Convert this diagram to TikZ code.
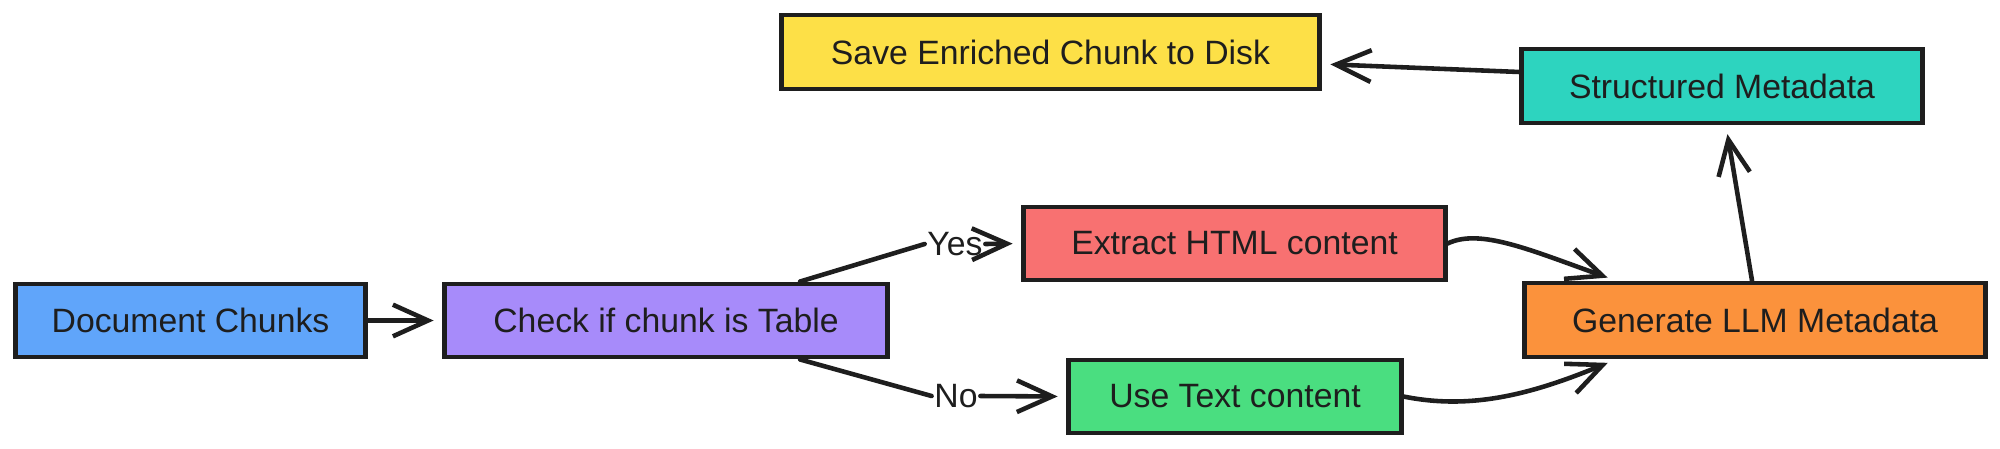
\documentclass[tikz,border=0pt]{standalone}
\usepackage{fontspec}
\setmainfont{Liberation Sans}
\usetikzlibrary{arrows.meta}
\definecolor{cblue}{HTML}{60A5FA}
\definecolor{cpurple}{HTML}{A78BFA}
\definecolor{cred}{HTML}{F87171}
\definecolor{cgreen}{HTML}{4ADE80}
\definecolor{corange}{HTML}{FB923C}
\definecolor{cteal}{HTML}{2DD4BF}
\definecolor{cyellow}{HTML}{FDE047}
\definecolor{ink}{HTML}{1E1E1E}
\tikzset{
  box/.style={draw=ink, line width=1.4pt, rectangle, inner sep=0pt,
    minimum height=0.73cm, text=ink, font=\fontsize{9.6}{12}\selectfont},
  lbl/.style={inner sep=0.6pt, text=ink, font=\fontsize{9.6}{12}\selectfont},
  arr/.style={draw=ink, line width=1.3pt, line cap=round,
    -{Straight Barb[length=10pt,width=9pt,line width=1.3pt]}, shorten >=2.5pt},
  ln/.style={draw=ink, line width=1.3pt, line cap=round}
}
\begin{document}
\begin{tikzpicture}[x=0.01cm,y=-0.01cm]
\useasboundingbox (0,0) rectangle (2000,448);
\node[box, fill=cblue, minimum width=3.49cm] (doc) at (190.5,320.5) {Document Chunks};
\node[box, fill=cpurple, minimum width=4.42cm] (chk) at (666,320.5) {Check if chunk is Table};
\node[box, fill=cred, minimum width=4.21cm] (ext) at (1234.5,243.5) {Extract HTML content};
\node[box, fill=cgreen, minimum width=3.32cm] (use) at (1235,396.5) {Use Text content};
\node[box, fill=corange, minimum width=4.60cm, minimum height=0.74cm] (gen) at (1755,320) {Generate LLM Metadata};
\node[box, fill=cteal, minimum width=4.00cm, minimum height=0.74cm] (str) at (1722,86) {Structured Metadata};
\node[box, fill=cyellow, minimum width=5.37cm, minimum height=0.74cm] (save) at (1050.5,52) {Save Enriched Chunk to Disk};
\node[lbl] (yes) at (955,244) {Yes};
\node[lbl] (no) at (956,396) {No};

\draw[arr] (doc) -- (chk);
\draw[ln] ([xshift=1.34cm]chk.north) -- (yes.west);
\draw[arr] (yes.east) -- (ext.west);
\draw[ln] ([xshift=1.34cm]chk.south) -- (no.west);
\draw[arr] (no.east) -- (use.west);
\draw[arr] (ext.east) .. controls (1480,228) and (1530,250) .. ([xshift=-1.39cm]gen.north);
\draw[arr] (use.east) .. controls (1470,410) and (1530,395) .. ([xshift=-1.39cm]gen.south);
\draw[arr] ([xshift=-0.03cm]gen.north) -- ([xshift=0.04cm]str.south);
\draw[arr] ([yshift=0.14cm]str.west) -- ([yshift=-0.12cm]save.east);
\end{tikzpicture}
\end{document}
